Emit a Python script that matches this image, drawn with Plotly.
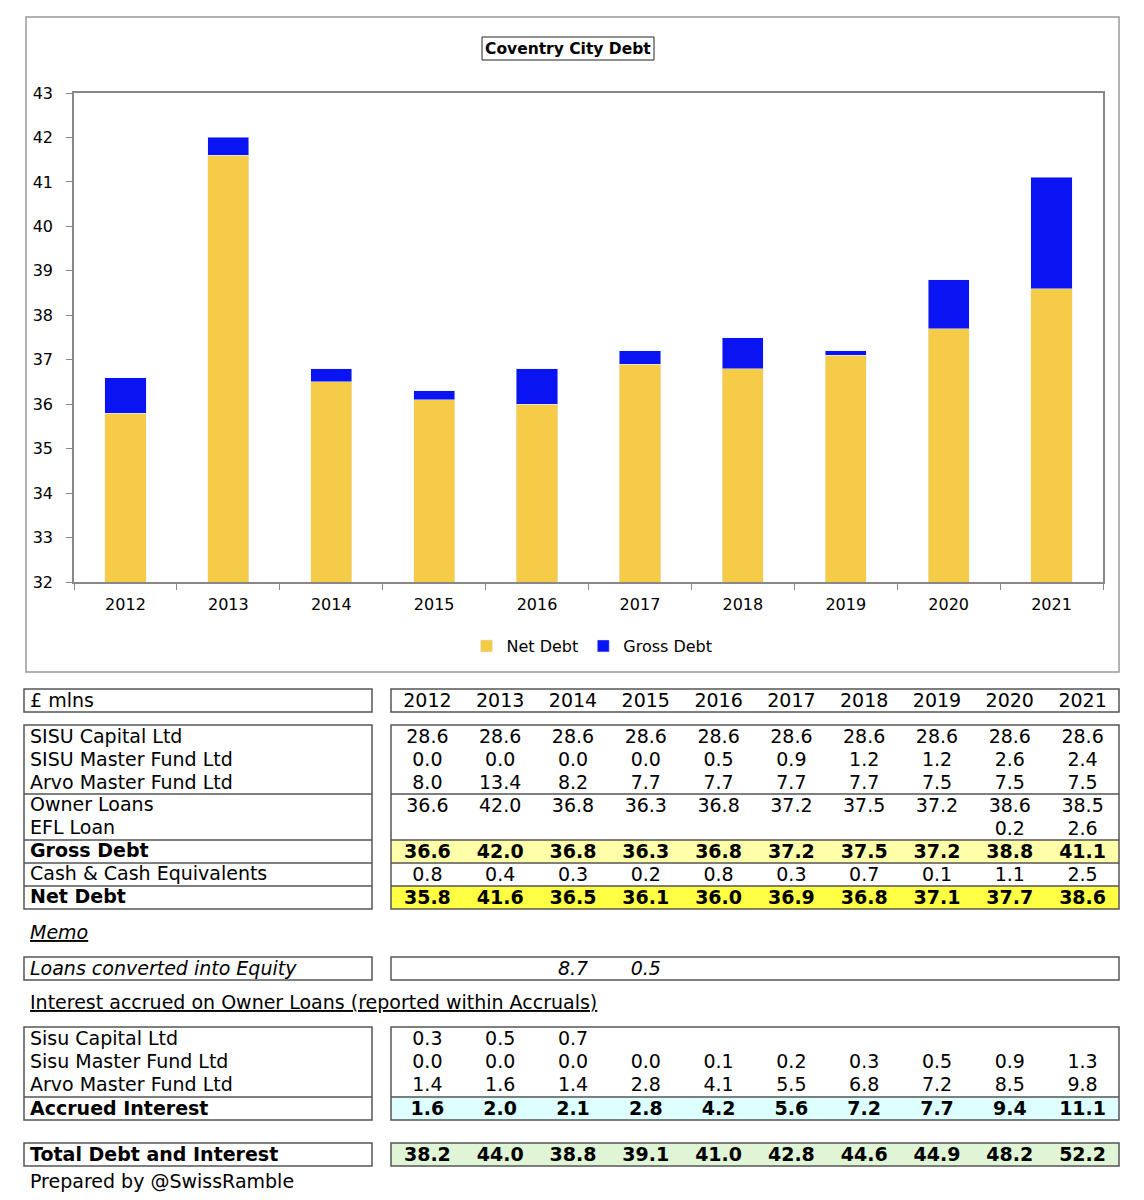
import plotly.graph_objects as go

# ---------------- data ----------------
years = ["2012", "2013", "2014", "2015", "2016", "2017", "2018", "2019", "2020", "2021"]

sisu_capital = [28.6, 28.6, 28.6, 28.6, 28.6, 28.6, 28.6, 28.6, 28.6, 28.6]
sisu_master = [0.0, 0.0, 0.0, 0.0, 0.5, 0.9, 1.2, 1.2, 2.6, 2.4]
arvo_master = [8.0, 13.4, 8.2, 7.7, 7.7, 7.7, 7.7, 7.5, 7.5, 7.5]
owner_loans = [36.6, 42.0, 36.8, 36.3, 36.8, 37.2, 37.5, 37.2, 38.6, 38.5]
efl_loan = [None, None, None, None, None, None, None, None, 0.2, 2.6]
gross_debt = [36.6, 42.0, 36.8, 36.3, 36.8, 37.2, 37.5, 37.2, 38.8, 41.1]
cash = [0.8, 0.4, 0.3, 0.2, 0.8, 0.3, 0.7, 0.1, 1.1, 2.5]
net_debt = [35.8, 41.6, 36.5, 36.1, 36.0, 36.9, 36.8, 37.1, 37.7, 38.6]

loans_converted = [None, None, 8.7, 0.5, None, None, None, None, None, None]

int_sisu_capital = [0.3, 0.5, 0.7, None, None, None, None, None, None, None]
int_sisu_master = [0.0, 0.0, 0.0, 0.0, 0.1, 0.2, 0.3, 0.5, 0.9, 1.3]
int_arvo_master = [1.4, 1.6, 1.4, 2.8, 4.1, 5.5, 6.8, 7.2, 8.5, 9.8]
accrued_interest = [1.6, 2.0, 2.1, 2.8, 4.2, 5.6, 7.2, 7.7, 9.4, 11.1]
total_debt_interest = [38.2, 44.0, 38.8, 39.1, 41.0, 42.8, 44.6, 44.9, 48.2, 52.2]

# ---------------- layout helpers ----------------
W, H = 1144, 1200
OFF = 8  # page body margin offset
FONT = "DejaVu Sans"
TS = 19  # table font size
VAL_DY = 1.5   # small vertical nudge for value text
LAB_DY = -1.0  # small vertical nudge for label text


def px(x):
    return (x - OFF) / W


def py(y):
    return 1 - (y - OFF) / H


YELLOW = "#F5CB47"
BLUE = "#0A14F2"
BORDER = "#555555"

fig = go.Figure()

# ---------------- chart ----------------
gross_part = [round(g - n, 1) for g, n in zip(gross_debt, net_debt)]

fig.add_trace(go.Bar(x=years, y=net_debt, name="Net Debt", marker_color=YELLOW,
                     width=0.4, xaxis="x", yaxis="y"))
fig.add_trace(go.Bar(x=years, y=gross_part, name="Gross Debt", marker_color=BLUE,
                     width=0.4, xaxis="x", yaxis="y"))

# ---------------- table ----------------
def fmt(v):
    return "" if v is None else f"{v:.1f}"


def text_row(txt, y):
    fig.add_trace(go.Scatter(x=years, y=[y + VAL_DY] * len(years), mode="text", text=txt,
                             textposition="middle center",
                             textfont=dict(family=FONT, size=TS, color="black"),
                             xaxis="x2", yaxis="y2", showlegend=False,
                             cliponaxis=False, hoverinfo="skip"))


def value_row(vals, y, bold=False, italic=False):
    txt = [fmt(v) for v in vals]
    if bold:
        txt = [f"<b>{t}</b>" if t else "" for t in txt]
    if italic:
        txt = [f"<i>{t}</i>" if t else "" for t in txt]
    text_row(txt, y)


annotations = []


def label(text, y, x=28):
    annotations.append(dict(text=text, x=px(x), y=py(y + LAB_DY), xref="paper", yref="paper",
                            xanchor="left", yanchor="middle", showarrow=False,
                            font=dict(family=FONT, size=TS, color="black")))


shapes = []


def rect(x0, y0, x1, y1, fill=None, color=BORDER, width=1.5):
    shapes.append(dict(type="rect", xref="paper", yref="paper",
                       x0=px(x0), x1=px(x1), y0=py(y1), y1=py(y0),
                       line=dict(color=color, width=width),
                       fillcolor=fill if fill else "rgba(0,0,0,0)", layer="below"))


def hline(x0, x1, y):
    shapes.append(dict(type="line", xref="paper", yref="paper",
                       x0=px(x0), x1=px(x1), y0=py(y), y1=py(y),
                       line=dict(color=BORDER, width=1.5)))


LX0, LX1 = 24, 372
VX0, VX1 = 391, 1119

# header
rect(LX0, 689, LX1, 712)
rect(VX0, 689, VX1, 712)
label("£ mlns", 700.5)
text_row(years, 700.5)

# main block
rect(VX0, 840, VX1, 863, fill="#FFFFAA", width=0)
rect(VX0, 886, VX1, 909, fill="#FFFF44", width=0)
rect(LX0, 725, LX1, 909)
rect(VX0, 725, VX1, 909)
for yy in (794, 840, 863, 886):
    hline(LX0, LX1, yy)
    hline(VX0, VX1, yy)

main_rows = [
    ("SISU Capital Ltd", sisu_capital, 736.5, False),
    ("SISU Master Fund Ltd", sisu_master, 759.5, False),
    ("Arvo Master Fund Ltd", arvo_master, 782.5, False),
    ("Owner Loans", owner_loans, 805.5, False),
    ("EFL Loan", efl_loan, 828.5, False),
    ("<b>Gross Debt</b>", gross_debt, 851.5, True),
    ("Cash & Cash Equivalents", cash, 874.5, False),
    ("<b>Net Debt</b>", net_debt, 897.5, True),
]
for lab, vals, yy, b in main_rows:
    label(lab, yy)
    value_row(vals, yy, bold=b)

# memo
label("<i><u>Memo</u></i>", 933)
rect(LX0, 957, LX1, 980)
rect(VX0, 957, VX1, 980)
label("<i>Loans converted into Equity</i>", 968.5)
value_row(loans_converted, 968.5, italic=True)

label("<u>Interest accrued on Owner Loans (reported within Accruals)</u>", 1003)
rect(VX0, 1097, VX1, 1120, fill="#DDFFFF", width=0)
rect(LX0, 1027, LX1, 1120)
rect(VX0, 1027, VX1, 1120)
hline(LX0, LX1, 1097)
hline(VX0, VX1, 1097)
int_rows = [
    ("Sisu Capital Ltd", int_sisu_capital, 1038.5, False),
    ("Sisu Master Fund Ltd", int_sisu_master, 1061.5, False),
    ("Arvo Master Fund Ltd", int_arvo_master, 1085, False),
    ("<b>Accrued Interest</b>", accrued_interest, 1108.5, True),
]
for lab, vals, yy, b in int_rows:
    label(lab, yy)
    value_row(vals, yy, bold=b)

rect(VX0, 1143, VX1, 1166, fill="#DFF5D5", width=0)
rect(LX0, 1143, LX1, 1166)
rect(VX0, 1143, VX1, 1166)
label("<b>Total Debt and Interest</b>", 1154.5)
value_row(total_debt_interest, 1154.5, bold=True)

label("Prepared by @SwissRamble", 1182)

# chart frame and title box
rect(26, 17, 1119, 672, color="#999999", width=1.5)
rect(482, 37, 654, 60, color="#222222", width=1)
annotations.append(dict(text="<b>Coventry City Debt</b>", x=px(568), y=py(49),
                        xref="paper", yref="paper", xanchor="center", yanchor="middle",
                        showarrow=False, font=dict(family=FONT, size=15.5, color="black")))

fig.update_layout(
    width=W, height=H,
    margin=dict(l=0, r=0, t=0, b=0, autoexpand=False),
    paper_bgcolor="white", plot_bgcolor="rgba(0,0,0,0)",
    barmode="stack", bargap=0.6,
    font=dict(family=FONT, size=16, color="black"),
    showlegend=True,
    legend=dict(orientation="h", x=px(592), y=py(646), xanchor="center", yanchor="middle",
                font=dict(family=FONT, size=16, color="black"), itemwidth=30,
                traceorder="normal", bgcolor="rgba(0,0,0,0)"),
    xaxis=dict(domain=[px(74), px(1103)], type="category", anchor="y",
               showline=True, linecolor="#888888", linewidth=1.5, mirror=True,
               ticks="outside", tickson="boundaries", ticklen=6, tickcolor="#888888",
               showgrid=False, tickfont=dict(family=FONT, size=16, color="black"),
               ticklabelstandoff=7),
    yaxis=dict(domain=[py(582), py(93)], range=[32, 43], dtick=1, anchor="x",
               showline=True, linecolor="#888888", linewidth=1.5, mirror=True,
               ticks="outside", ticklen=6, tickcolor="#888888", showgrid=False,
               zeroline=False, tickfont=dict(family=FONT, size=16, color="black"),
               ticklabelstandoff=10),
    xaxis2=dict(domain=[px(VX0), px(VX1)], type="category", anchor="y2",
                visible=False, categoryorder="array", categoryarray=years),
    yaxis2=dict(domain=[0, 1], range=[H + OFF, OFF], anchor="x2", visible=False),
    shapes=shapes,
    annotations=annotations,
)

fig.write_html("out.html")
